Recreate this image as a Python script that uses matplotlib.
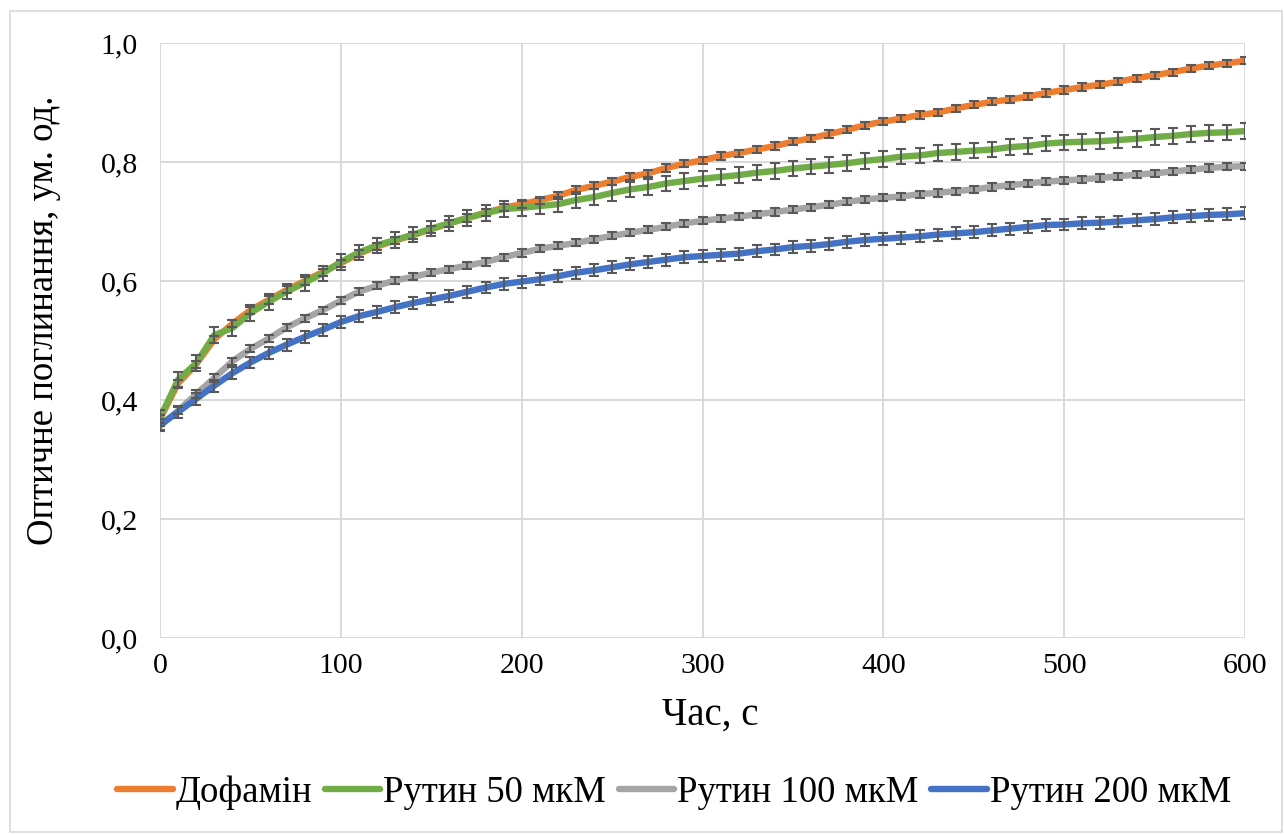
import matplotlib
matplotlib.use("Agg")
import matplotlib.pyplot as plt
from matplotlib.patches import Rectangle

# Time points, s
time_s = [0, 10, 20, 30, 40, 50, 60, 70, 80, 90,
          100, 110, 120, 130, 140, 150, 160, 170, 180, 190,
          200, 210, 220, 230, 240, 250, 260, 270, 280, 290,
          300, 310, 320, 330, 340, 350, 360, 370, 380, 390,
          400, 410, 420, 430, 440, 450, 460, 470, 480, 490,
          500, 510, 520, 530, 540, 550, 560, 570, 580, 590, 600]

# Optical absorbance
dopamine = [0.368, 0.428, 0.460, 0.502, 0.528, 0.551, 0.568, 0.585, 0.600, 0.615,
            0.630, 0.646, 0.658, 0.668, 0.677, 0.687, 0.697, 0.706, 0.715, 0.723,
            0.729, 0.736, 0.743, 0.753, 0.760, 0.767, 0.775, 0.781, 0.790, 0.797,
            0.803, 0.810, 0.815, 0.821, 0.827, 0.834, 0.840, 0.847, 0.854, 0.862,
            0.868, 0.873, 0.879, 0.883, 0.890, 0.896, 0.901, 0.905, 0.910, 0.916,
            0.921, 0.926, 0.930, 0.935, 0.941, 0.946, 0.951, 0.957, 0.962, 0.966, 0.970]

rutin_50 = [0.370, 0.434, 0.462, 0.509, 0.521, 0.546, 0.565, 0.582, 0.597, 0.613,
            0.632, 0.648, 0.660, 0.669, 0.678, 0.688, 0.697, 0.706, 0.714, 0.721,
            0.723, 0.726, 0.729, 0.736, 0.741, 0.748, 0.754, 0.758, 0.764, 0.768,
            0.772, 0.775, 0.778, 0.782, 0.785, 0.789, 0.792, 0.795, 0.798, 0.802,
            0.805, 0.809, 0.811, 0.815, 0.817, 0.819, 0.821, 0.825, 0.827, 0.831,
            0.833, 0.834, 0.835, 0.837, 0.839, 0.842, 0.844, 0.847, 0.849, 0.850, 0.852]

rutin_100 = [0.356, 0.382, 0.410, 0.437, 0.465, 0.486, 0.503, 0.522, 0.537, 0.551,
             0.567, 0.582, 0.592, 0.601, 0.607, 0.614, 0.620, 0.626, 0.632, 0.640,
             0.647, 0.654, 0.659, 0.664, 0.670, 0.676, 0.681, 0.686, 0.691, 0.697,
             0.701, 0.705, 0.708, 0.712, 0.716, 0.720, 0.724, 0.728, 0.733, 0.737,
             0.740, 0.742, 0.746, 0.748, 0.751, 0.754, 0.758, 0.761, 0.764, 0.767,
             0.769, 0.771, 0.773, 0.776, 0.779, 0.781, 0.784, 0.787, 0.790, 0.792, 0.793]

rutin_200 = [0.358, 0.380, 0.402, 0.424, 0.445, 0.463, 0.479, 0.493, 0.506, 0.518,
             0.531, 0.541, 0.548, 0.556, 0.563, 0.569, 0.575, 0.582, 0.589, 0.595,
             0.599, 0.603, 0.608, 0.614, 0.618, 0.623, 0.628, 0.632, 0.636, 0.640,
             0.642, 0.644, 0.646, 0.650, 0.653, 0.657, 0.659, 0.662, 0.666, 0.669,
             0.671, 0.673, 0.675, 0.678, 0.680, 0.682, 0.685, 0.688, 0.691, 0.694,
             0.695, 0.697, 0.698, 0.700, 0.702, 0.704, 0.707, 0.709, 0.711, 0.712, 0.714]

# Error bar half-heights per series
errors = [0.006, 0.013, 0.006, 0.010]

labels = ["Дофамін", "Рутин 50 мкМ", "Рутин 100 мкМ", "Рутин 200 мкМ"]
colors = ["#ED7D31", "#70AD47", "#A5A5A5", "#4472C4"]

x_ticks = [0, 100, 200, 300, 400, 500, 600]
y_ticks = [0.0, 0.2, 0.4, 0.6, 0.8, 1.0]
y_tick_labels = ["0,0", "0,2", "0,4", "0,6", "0,8", "1,0"]

plt.rcParams["font.family"] = ["Liberation Serif", "DejaVu Serif"]

fig = plt.figure(figsize=(12.84, 8.34), dpi=100)
ax = fig.add_axes([160 / 1284, 1 - 638 / 834, 1085 / 1284, 595 / 834])

# light outer chart border like Excel
fig.patches.append(Rectangle((10 / 1284, 2 / 834), 1272 / 1284, 821 / 834,
                             transform=fig.transFigure, fill=False,
                             edgecolor="#d9d9d9", linewidth=1.2))

series = [dopamine, rutin_50, rutin_100, rutin_200]
for ys, lab, col in zip(series, labels, colors):
    ax.plot(time_s, ys, color=col, linewidth=4.6, label=lab, zorder=3,
            solid_capstyle="round")

for ys, err in zip(series, errors):
    ax.errorbar(time_s, ys, yerr=err, fmt="none", ecolor="#595959",
                elinewidth=1.5, capsize=3.4, capthick=1.5, zorder=4)

ax.set_xlim(0, 600)
ax.set_ylim(0, 1.0)
ax.set_xticks(x_ticks)
ax.set_yticks(y_ticks)
ax.set_yticklabels(y_tick_labels)
ax.tick_params(axis="both", length=0, labelsize=21.5, colors="black")
ax.tick_params(axis="x", pad=11)
ax.tick_params(axis="y", pad=16)
ax.grid(True, color="#d9d9d9", linewidth=1.4)
ax.set_axisbelow(True)
for s in ax.spines.values():
    s.set_visible(False)

ax.set_xlabel("Час, с", fontsize=28)
ax.set_ylabel("Оптичне поглинання, ум. од.", fontsize=26.5)
ax.xaxis.set_label_coords(0.507, -0.098)
ax.yaxis.set_label_coords(-0.091, 0.534)

fig.legend(loc="center", bbox_to_anchor=(0.525, 1 - 793 / 834), ncol=4,
           frameon=False, fontsize=26.5, handlelength=1.5, handletextpad=0.08,
           columnspacing=0.35)

fig.savefig("out.png", dpi=100)
